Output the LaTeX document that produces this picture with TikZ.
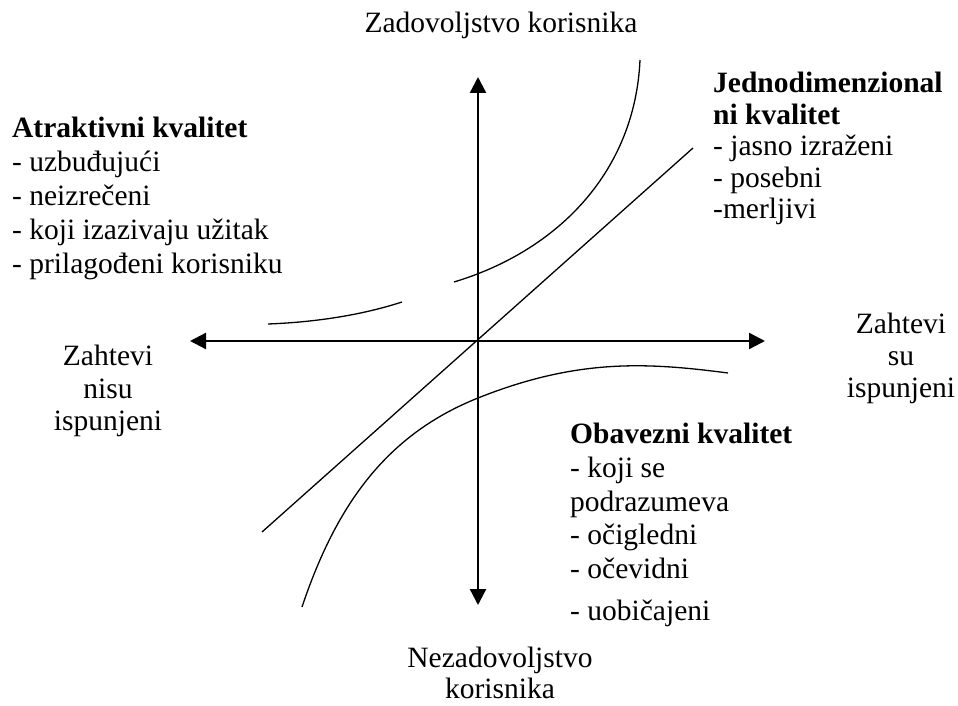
\documentclass[tikz,border=0pt]{standalone}
\usepackage{fontspec}
\setmainfont{Liberation Serif}
\usetikzlibrary{arrows.meta}
\begin{document}
\begin{tikzpicture}[x=1pt,y=-1pt,
  axis/.style={line width=2.3pt, {Triangle[length=16pt,width=16pt]}-{Triangle[length=16pt,width=16pt]}},
  curve/.style={line width=1.3pt},
  lbl/.style={inner sep=0pt, font=\fontsize{29.5}{34}\selectfont},
]
\useasboundingbox (0,0) rectangle (958,706);

% axes
\coordinate (top) at (478,77);
\coordinate (bottom) at (478,605);
\coordinate (left) at (190,341);
\coordinate (right) at (765,341);
\draw[axis] (left) -- (right);
\draw[axis] (bottom) -- (top);

% one-dimensional quality line
\coordinate (d1) at (262,532);
\coordinate (d2) at (693,148);
\draw[curve] (d1) -- (d2);

% attractive quality curve
\coordinate (a1) at (268,324);
\coordinate (a2) at (402,302);
\coordinate (a3) at (454,282);
\coordinate (a4) at (640,60);
\draw[curve] (a1) .. controls (320,322) and (365,314) .. (a2);
\draw[curve] (a3) .. controls (560,250) and (635,170) .. (a4);

% must-be quality curve
\coordinate (m1) at (302,607);
\coordinate (m2) at (478,398);
\coordinate (m3) at (728,373);
\draw[curve] (m1) .. controls (337,502.5) and (388,434) .. (m2)
                  .. controls (578,358) and (648,362.6) .. (m3);

% labels
\node[lbl, anchor=base] (zad) at (501,33) {Zadovoljstvo korisnika};
\node[lbl, anchor=north, align=center, font=\fontsize{29.5}{31}\selectfont] (nez) at (500,647) {Nezadovoljstvo\\korisnika};
\node[lbl, anchor=north, align=center, font=\fontsize{29.5}{32.5}\selectfont] (nisu) at (108,345) {Zahtevi\\nisu\\ispunjeni};
\node[lbl, anchor=north, align=center, font=\fontsize{29.5}{32}\selectfont] (su) at (901,313) {Zahtevi\\su\\ispunjeni};
\node[lbl, anchor=north west, align=left] (atr) at (12,117)
  {\textbf{Atraktivni kvalitet}\\- uzbuđujući\\- neizrečeni\\- koji izazivaju užitak\\- prilagođeni korisniku};
\node[lbl, anchor=north west, align=left, font=\fontsize{29.5}{31.5}\selectfont] (jed) at (713,72)
  {\textbf{Jednodimenzional}\\\textbf{ni kvalitet}\\- jasno izraženi\\- posebni\\-merljivi};
\node[lbl, anchor=north west, align=left, font=\fontsize{29.5}{33.7}\selectfont] (oba) at (570,423)
  {\textbf{Obavezni kvalitet}\\- koji se\\podrazumeva\\- očigledni\\- očevidni\\[8pt]- uobičajeni};
\end{tikzpicture}
\end{document}
